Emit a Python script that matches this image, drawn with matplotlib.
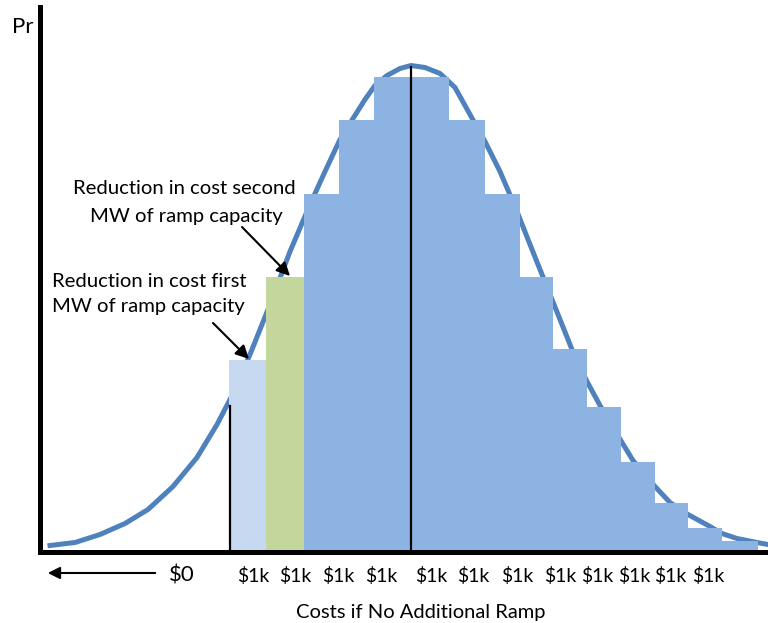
import matplotlib
matplotlib.use('Agg')
import matplotlib.pyplot as plt
import numpy as np

plt.rcParams['font.family'] = ['Lato', 'DejaVu Sans']

# cost bins (horizontal position along the cost axis) and probability per bin
bin_edges = [229, 266, 304, 339, 374, 411, 449, 485, 520, 553, 587, 621, 655, 688, 722, 758]
bin_prob = [192, 275, 358, 432, 475, 475, 432, 358, 275, 203, 145, 90, 49, 24, 11]
bin_colors = ['#C6D9F1', '#C3D69B'] + ['#8DB3E2'] * 13

# smooth probability curve
curve_x = [50, 75, 100, 125, 148, 173, 197, 217, 230, 250, 270, 290, 310, 325, 340, 353,
           365, 375, 387, 400, 411, 425, 440, 455, 470, 485, 500, 515, 532, 552, 572, 587,
           600, 622, 633, 655, 670, 688, 710, 722, 737, 757, 768]
curve_y = [6, 9, 17, 28, 42, 65, 94, 127, 152, 197, 247, 300, 347, 380, 412, 433,
           452, 466, 476, 483, 486, 484, 478, 464, 437, 410, 380, 345, 302, 252, 202, 170,
           146, 109, 91, 65, 49, 37, 25, 18, 13, 9, 7]

tick_pos = [253, 295, 338, 381, 431, 473, 517, 560, 597, 634, 670, 708]
tick_labels = ['$1k'] * len(tick_pos)

W, H = 768, 623
fig = plt.figure(figsize=(W / 100, H / 100), dpi=100)
ax = fig.add_axes([40 / W, (H - 551.5) / H, (W - 40) / W, (551.5 - 7) / H])
ax.set_xlim(40, W)
ax.set_ylim(0, 551.5 - 7)

ax.plot(curve_x, curve_y, color='#4F81BD', lw=3.6, zorder=1, solid_joinstyle='round')

edges = np.array(bin_edges)
ax.bar(edges[:-1], bin_prob, width=np.diff(edges), align='edge',
       color=bin_colors, linewidth=0, zorder=2)

# mean marker and start-of-range marker
ax.plot([229.5, 229.5], [0, 146], color='black', lw=1.6, zorder=3)
ax.plot([411, 411], [0, 485], color='black', lw=1.6, zorder=3)

for side in ['top', 'right']:
    ax.spines[side].set_visible(False)
for side in ['left', 'bottom']:
    ax.spines[side].set_linewidth(3.6)
    ax.spines[side].set_color('black')
    ax.spines[side].set_zorder(4)
ax.set_xticks([])
ax.set_yticks([])

ax.text(23, 518.5, 'Pr', fontsize=16, ha='center', va='baseline')
ax.text(182, -30.5, '$0', fontsize=16, ha='center', va='baseline')
for x, lab in zip(tick_pos, tick_labels):
    ax.text(x, -30.5, lab, fontsize=14, ha='center', va='baseline')
ax.text(421, -66.5, 'Costs if No Additional Ramp', fontsize=14.5, ha='center', va='baseline')

ax.annotate('', xy=(45, -21.5), xytext=(158, -21.5), annotation_clip=False,
            arrowprops=dict(arrowstyle='-|>', color='black', lw=1.5, mutation_scale=18))

ax.text(184, 357.5, 'Reduction in cost second', fontsize=14.6, ha='center', va='baseline')
ax.text(186, 329.5, 'MW of ramp capacity', fontsize=14.6, ha='center', va='baseline')
ax.text(149.5, 264.5, 'Reduction in cost first', fontsize=14.6, ha='center', va='baseline')
ax.text(148, 239.5, 'MW of ramp capacity', fontsize=14.6, ha='center', va='baseline')

ax.annotate('', xy=(249, 192.5), xytext=(213, 228.5),
            arrowprops=dict(arrowstyle='-|>', color='black', lw=1.5, mutation_scale=20,
                            shrinkA=0, shrinkB=0))
ax.annotate('', xy=(290, 275.5), xytext=(242, 324.5),
            arrowprops=dict(arrowstyle='-|>', color='black', lw=1.5, mutation_scale=20,
                            shrinkA=0, shrinkB=0))

plt.savefig('out.png', dpi=100)
